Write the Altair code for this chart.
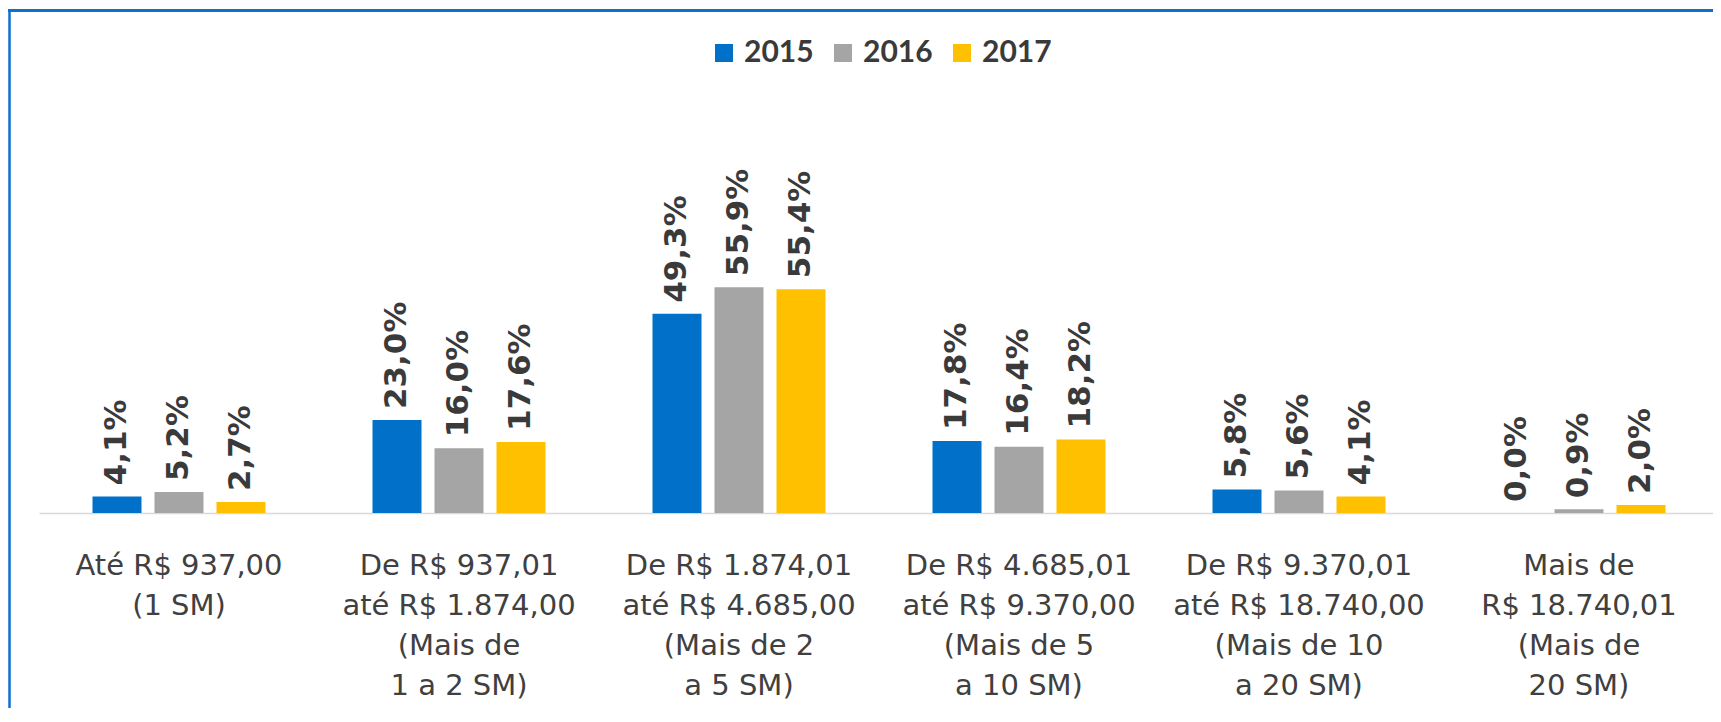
import altair as alt
import pandas as pd

categories = [
    "Até R$ 937,00|(1 SM)",
    "De R$ 937,01|até R$ 1.874,00|(Mais de|1 a 2 SM)",
    "De R$ 1.874,01|até R$ 4.685,00|(Mais de 2|a 5 SM)",
    "De R$ 4.685,01|até R$ 9.370,00|(Mais de 5|a 10 SM)",
    "De R$ 9.370,01|até R$ 18.740,00|(Mais de 10|a 20 SM)",
    "Mais de|R$ 18.740,01|(Mais de|20 SM)",
]
years = ["2015", "2016", "2017"]
v2015 = [4.1, 23.0, 49.3, 17.8, 5.8, 0.0]
v2016 = [5.2, 16.0, 55.9, 16.4, 5.6, 0.9]
v2017 = [2.7, 17.6, 55.4, 18.2, 4.1, 2.0]
colors = ["#0070C9", "#A5A5A5", "#FFC000"]

rows = []
for i, c in enumerate(categories):
    for yr, vals in zip(years, [v2015, v2016, v2017]):
        v = vals[i]
        rows.append({"cat": c, "year": yr, "value": v,
                     "label": f"{v:.1f}".replace(".", ",") + "%"})
df = pd.DataFrame(rows)

x_enc = alt.X(
    "cat:N", sort=categories, title=None,
    scale=alt.Scale(range=[31, 1711], paddingInner=0, paddingOuter=0),
    axis=alt.Axis(
        labelExpr="split(datum.label, '|')",
        labelFont="DejaVu Sans", labelFontSize=29, labelColor="#404040",
        labelLineHeight=40, labelPadding=38, labelAngle=0, labelBaseline="top",
        labelLimit=500, ticks=False, tickSize=0,
        domainColor="#D9D9D9", domainWidth=1.5,
    ),
)
xo_enc = alt.XOffset("year:N", sort=years,
                     scale=alt.Scale(paddingInner=0.21, paddingOuter=0.863))
y_enc = alt.Y("value:Q", scale=alt.Scale(domain=[0, 125]), axis=None)

bars = alt.Chart(df).mark_bar().encode(
    x=x_enc, xOffset=xo_enc, y=y_enc,
    color=alt.Color(
        "year:N", sort=years,
        scale=alt.Scale(domain=years, range=colors),
        legend=alt.Legend(
            title=None, orient="none", legendX=701, legendY=30,
            direction="horizontal", symbolType="square", symbolSize=324,
            symbolStrokeWidth=0, labelFont="Lato", labelFontWeight="bold",
            labelFontSize=30, labelColor="#3A3A3A", labelOffset=5,
            columnPadding=14, padding=0,
        ),
    ),
)

labels = alt.Chart(df).mark_text(
    angle=270, align="left", baseline="middle", dx=11,
    font="DejaVu Sans", fontWeight="bold", fontSize=31, color="#3A3A3A",
).encode(x=x_enc, xOffset=xo_enc, y=y_enc, text="label:N")

frame_top = alt.Chart(alt.Data(values=[{}])).mark_rule(
    color="#0F6FCF", strokeWidth=3
).encode(x=alt.value(0), x2=alt.value(1705), y=alt.value(2.5))

frame_left = alt.Chart(alt.Data(values=[{}])).mark_rule(
    color="#0F6FCF", strokeWidth=2.5
).encode(x=alt.value(1.5), y=alt.value(1), y2=alt.value(700))

chart = alt.layer(frame_top, frame_left, bars, labels).properties(
    width=1705, height=505,
    padding={"left": 0, "top": 0, "right": 0, "bottom": 195},
    autosize=alt.AutoSizeParams(type="none"),
).configure_view(strokeWidth=0)

chart.save("out.html", embed_options={"renderer": "svg", "actions": False})
